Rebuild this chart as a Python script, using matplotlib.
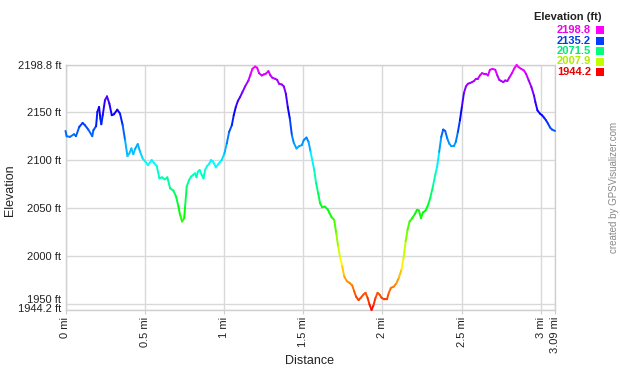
import numpy as np
import matplotlib
matplotlib.use("Agg")
import matplotlib.pyplot as plt
from matplotlib.collections import LineCollection
from matplotlib.colors import hsv_to_rgb
from matplotlib.transforms import ScaledTranslation

plt.rcParams['font.family'] = ['Liberation Sans', 'DejaVu Sans']

distance_mi = [
    0.000, 0.007, 0.028, 0.054, 0.066, 0.087, 0.108, 0.123, 0.144, 0.169, 0.176, 0.193,
    0.201, 0.212, 0.220, 0.226, 0.235, 0.249, 0.262, 0.277, 0.292, 0.306, 0.327, 0.344,
    0.361, 0.376, 0.391, 0.403, 0.416, 0.428, 0.441, 0.456, 0.471, 0.487, 0.504, 0.521,
    0.544, 0.561, 0.576, 0.593, 0.609, 0.626, 0.643, 0.660, 0.681, 0.698, 0.713, 0.723,
    0.736, 0.749, 0.755, 0.765, 0.780, 0.793, 0.805, 0.818, 0.827, 0.835, 0.847, 0.860,
    0.871, 0.881, 0.894, 0.906, 0.919, 0.932, 0.949, 0.965, 0.986, 1.003, 1.018, 1.033,
    1.050, 1.062, 1.075, 1.088, 1.102, 1.117, 1.134, 1.155, 1.168, 1.180, 1.197, 1.210,
    1.222, 1.239, 1.252, 1.264, 1.281, 1.294, 1.306, 1.323, 1.336, 1.348, 1.365, 1.378,
    1.391, 1.403, 1.416, 1.429, 1.441, 1.458, 1.475, 1.492, 1.504, 1.521, 1.534, 1.547,
    1.570, 1.582, 1.595, 1.607, 1.620, 1.637, 1.654, 1.667, 1.679, 1.696, 1.709, 1.721,
    1.734, 1.747, 1.759, 1.776, 1.793, 1.810, 1.822, 1.835, 1.850, 1.864, 1.881, 1.894,
    1.907, 1.919, 1.932, 1.944, 1.957, 1.970, 1.982, 1.995, 2.012, 2.029, 2.041, 2.054,
    2.071, 2.088, 2.104, 2.121, 2.134, 2.147, 2.159, 2.172, 2.189, 2.206, 2.219, 2.231,
    2.244, 2.256, 2.273, 2.285, 2.302, 2.319, 2.336, 2.346, 2.359, 2.372, 2.384, 2.397,
    2.410, 2.422, 2.435, 2.452, 2.464, 2.477, 2.490, 2.502, 2.515, 2.528, 2.540, 2.553,
    2.566, 2.578, 2.591, 2.603, 2.616, 2.629, 2.641, 2.654, 2.667, 2.679, 2.696, 2.713,
    2.726, 2.738, 2.751, 2.764, 2.776, 2.789, 2.801, 2.818, 2.835, 2.848, 2.860, 2.877,
    2.894, 2.907, 2.924, 2.941, 2.957, 2.966, 2.979, 2.995, 3.008, 3.021, 3.033, 3.046,
    3.059, 3.071, 3.090,
]

elevation_ft = [
    2130.3, 2124.8, 2124.1, 2126.9, 2124.8, 2134.5, 2138.6, 2136.2, 2131.7, 2124.8, 2131.0, 2135.2,
    2150.0, 2155.2, 2143.1, 2137.2, 2146.6, 2162.1, 2166.2, 2158.6, 2146.6, 2147.6, 2152.4, 2148.3,
    2136.2, 2120.7, 2104.1, 2106.9, 2112.1, 2106.2, 2112.1, 2116.6, 2108.6, 2101.7, 2098.3, 2094.8,
    2100.0, 2096.6, 2093.8, 2081.0, 2082.1, 2080.0, 2082.1, 2070.7, 2068.3, 2062.1, 2051.7, 2043.1,
    2036.2, 2039.7, 2051.7, 2072.4, 2079.3, 2082.8, 2084.5, 2086.2, 2082.1, 2087.9, 2089.7, 2084.5,
    2081.0, 2089.7, 2093.8, 2095.9, 2100.0, 2098.3, 2092.4, 2095.9, 2100.0, 2106.9, 2117.2, 2129.3,
    2136.2, 2146.6, 2155.2, 2161.4, 2165.5, 2170.7, 2176.6, 2182.8, 2189.0, 2194.8, 2197.2, 2195.9,
    2190.3, 2187.9, 2189.0, 2189.7, 2192.4, 2187.9, 2185.5, 2184.5, 2183.4, 2179.3, 2178.6, 2176.6,
    2169.0, 2155.2, 2143.1, 2125.9, 2117.9, 2112.1, 2114.5, 2115.5, 2120.7, 2123.4, 2119.0, 2108.6,
    2089.7, 2075.9, 2065.5, 2055.2, 2051.0, 2051.7, 2049.0, 2044.8, 2040.7, 2037.9, 2024.1, 2010.3,
    1998.3, 1989.7, 1979.3, 1974.1, 1972.4, 1969.7, 1963.8, 1957.9, 1954.5, 1956.9, 1960.3, 1962.1,
    1956.9, 1950.0, 1944.2, 1949.0, 1956.9, 1962.1, 1960.3, 1956.9, 1955.2, 1955.2, 1962.1, 1967.2,
    1968.3, 1971.7, 1977.6, 1986.2, 1998.3, 2015.5, 2027.6, 2036.2, 2039.7, 2044.1, 2048.3, 2047.6,
    2039.7, 2045.5, 2047.6, 2051.7, 2060.3, 2072.4, 2086.2, 2093.1, 2108.6, 2124.1, 2131.7, 2130.3,
    2122.4, 2117.2, 2114.5, 2114.5, 2119.0, 2129.3, 2141.4, 2155.2, 2169.7, 2176.6, 2179.3, 2180.0,
    2181.0, 2182.1, 2184.5, 2184.5, 2187.9, 2190.3, 2189.7, 2189.7, 2187.9, 2193.8, 2194.8, 2193.8,
    2187.9, 2183.4, 2182.1, 2181.0, 2182.8, 2182.1, 2185.5, 2190.3, 2195.9, 2198.8, 2196.6, 2194.8,
    2193.1, 2189.7, 2182.8, 2175.9, 2167.2, 2160.3, 2151.7, 2148.3, 2146.6, 2144.1, 2141.4, 2137.9,
    2133.8, 2131.7, 2130.3,
]

y_ticks = [1944.2, 1950, 2000, 2050, 2100, 2150, 2198.8]
y_tick_labels = ["1944.2 ft", "1950 ft", "2000 ft", "2050 ft", "2100 ft", "2150 ft", "2198.8 ft"]
x_ticks = [0, 0.5, 1, 1.5, 2, 2.5, 3, 3.09]
x_tick_labels = ["0 mi", "0.5 mi", "1 mi", "1.5 mi", "2 mi", "2.5 mi", "3 mi", "3.09 mi"]
legend_values = [2198.8, 2135.2, 2071.5, 2007.9, 1944.2]

ymin, ymax = 1944.2, 2198.8


def elev_color(v, val=1.0):
    t = (v - ymin) / (ymax - ymin)
    t = min(max(t, 0.0), 1.0)
    return hsv_to_rgb([t * 300.0 / 360.0, 1.0, val])


fig = plt.figure(figsize=(6.2, 3.75), dpi=100)
ax = fig.add_axes([65.5 / 620, 1 - 310 / 375, (555 - 65.5) / 620, (310 - 65) / 375])

x = np.array(distance_mi)
y = np.array(elevation_ft)
pts = np.column_stack([x, y]).reshape(-1, 1, 2)
segs = np.concatenate([pts[:-1], pts[1:]], axis=1)
cols = [elev_color((a + b) / 2) for a, b in zip(y[:-1], y[1:])]
lc = LineCollection(segs, colors=cols, linewidths=1.4, capstyle='round', joinstyle='round', zorder=3)
lc.set_clip_on(False)
ax.add_collection(lc)

ax.set_xlim(0, 3.09)
ax.set_ylim(ymin, ymax)

ax.set_yticks(y_ticks)
ax.set_yticklabels(y_tick_labels, fontsize=8, color='#222222')
ax.set_xticks(x_ticks)
ax.set_xticklabels(x_tick_labels, fontsize=8, rotation=90, color='#222222')
ax.tick_params(axis='y', length=0, pad=3)
ax.tick_params(axis='x', length=3, color='#cccccc', pad=2)
ax.grid(True, color='#d9d9d9', linewidth=1.0, zorder=0)
ax.set_axisbelow(True)
for s in ax.spines.values():
    s.set_color('#d0d0d0')
    s.set_linewidth(1.0)

# nudge the two crowded bottom labels apart, as in the reference
ylabels = ax.get_yticklabels()
shift_px = {"1944.2 ft": 2, "1950 ft": 5}
for lab in ylabels:
    dy = shift_px.get(lab.get_text(), 0)
    if dy:
        lab.set_transform(lab.get_transform() + ScaledTranslation(0, dy / 100, fig.dpi_scale_trans))

fig.text(10 / 620, 1 - 190 / 375, "Elevation", rotation=90, fontsize=9,
         ha='center', va='center', color='#222222')
fig.text(310 / 620, 1 - 361 / 375, "Distance", fontsize=9,
         ha='center', va='center', color='#222222')

# legend
fig.text(602 / 620, 1 - 17.5 / 375, "Elevation (ft)", fontsize=8, fontweight='bold',
         ha='right', va='center', color='#222222')
row_y = [30, 40.5, 51, 61.5, 72]
for v, ry in zip(legend_values, row_y):
    fig.text(591 / 620, 1 - ry / 375, f"{v:.1f}", fontsize=8, fontweight='bold',
             ha='right', va='center', color=elev_color(v, 0.92))
    fig.patches.append(plt.Rectangle((596 / 620, 1 - (ry + 4) / 375), 8 / 620, 8 / 375,
                                     transform=fig.transFigure, facecolor=elev_color(v),
                                     edgecolor='none', figure=fig))

fig.text(614 / 620, 1 - 187 / 375, "created by GPSVisualizer.com", rotation=90,
         fontsize=7, ha='center', va='center', color='#888888')

fig.savefig("out.png", dpi=100)
